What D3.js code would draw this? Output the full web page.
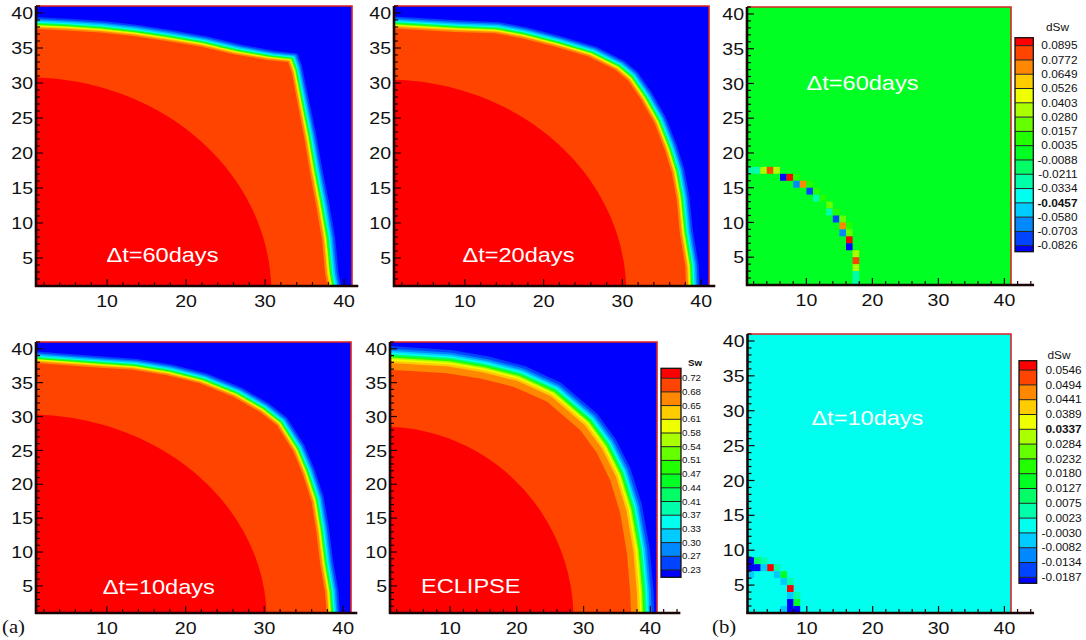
<!DOCTYPE html>
<html><head><meta charset="utf-8">
<script src="https://cdn.jsdelivr.net/npm/d3@7"></script>
<style>body{margin:0;background:#fff;} svg{display:block;}</style>
</head><body>
<svg id="c" width="1086" height="640"></svg>
<script>
// ---------------- DATA ----------------
const xTickLabels = [10, 20, 30, 40];
const yTickLabels = [5, 10, 15, 20, 25, 30, 35, 40];
const bandColors = ["#0000ff","#0044ff","#0088ff","#00ccff","#00ffee","#00ffaa","#00ff66","#00ff22",
                    "#22ff00","#66ff00","#aaff00","#eeff00","#ffcc00","#ff8800","#ff4400","#ff0000"];
const swLabels = ["0.72","0.68","0.65","0.61","0.58","0.54","0.51","0.47","0.44","0.41","0.37","0.33","0.30","0.27","0.23"];
const swBounds = [0.23,0.27,0.30,0.33,0.37,0.41,0.44,0.47,0.51,0.54,0.58,0.61,0.65,0.68,0.72];
const dsw60Labels = ["0.0895","0.0772","0.0649","0.0526","0.0403","0.0280","0.0157","0.0035","-0.0088","-0.0211","-0.0334","-0.0457","-0.0580","-0.0703","-0.0826"];
const dsw60Bounds = [-0.0826,-0.0703,-0.0580,-0.0457,-0.0334,-0.0211,-0.0088,0.0035,0.0157,0.0280,0.0403,0.0526,0.0649,0.0772,0.0895];
const dsw10Labels = ["0.0546","0.0494","0.0441","0.0389","0.0337","0.0284","0.0232","0.0180","0.0127","0.0075","0.0023","-0.0030","-0.0082","-0.0134","-0.0187"];
const dsw10Bounds = [-0.0187,-0.0134,-0.0082,-0.0030,0.0023,0.0075,0.0127,0.0180,0.0232,0.0284,0.0337,0.0389,0.0441,0.0494,0.0546];

// saturation front (outer edge of the Sw~0.70 zone), [x, y] grid coords
const front60 = [[1,37.7],[4.9,37.5],[9.1,37.2],[13.3,36.7],[17.5,36.0],[21.8,35.2],[26,34.1],[30.2,33.3],[32.9,33.0],[33.4,31.4],[34.2,26.6],[35,21.9],[35.7,17.1],[36.5,12.3],[37.2,7.6],[37.6,2.8],[37.9,1]];
const front20 = [[1,37.8],[8.7,37.3],[13.8,37.1],[17.2,36.4],[21.4,35.2],[25.7,33.8],[29.1,31.9],[30.7,30.4],[32.4,27.6],[34.1,24.2],[35.4,20.4],[36.3,17.1],[36.9,13.3],[37.3,8.5],[38,3.8],[38.1,1]];
const front10 = [[1,37.9],[9.1,37.2],[13.3,36.9],[17.6,36.1],[21.8,34.9],[26.1,32.9],[29.4,30.7],[31.6,28.7],[33.7,24.8],[34.9,21.4],[36,17.4],[36.6,13],[37.1,8.1],[37.7,4.1],[37.9,1]];
const frontEclipse = [[1,36.9],[9.5,36.4],[14.5,35.6],[19.5,34.4],[24.5,32.2],[29.5,28.0],[32,24.6],[34,20.6],[35.5,15.7],[36.5,9.8],[37,3.9],[37.1,1]];
// transition profile outward of the front: [distance, Sw]
const simProfile = [[1.7,0.25],[1.45,0.285],[1.25,0.315],[1.05,0.35],[0.9,0.425],[0.75,0.49],[0.6,0.56],[0.5,0.595],[0.4,0.63],[0.25,0.665]];
const eclProfile = [[3.5,0.25],[3.1,0.285],[2.8,0.315],[2.55,0.35],[2.3,0.425],[2.05,0.49],[1.8,0.56],[1.6,0.595],[1.35,0.63],[1.0,0.665]];
const plateauSw = 0.70, coreSw = 0.75, initialSw = 0.20;
// radius of the Sw>0.72 core zone per panel (60d, 20d, 10d, ECLIPSE)
const coreRadius = [30.8, 30.5, 30.3, 28.5];

// dSw cells [x, y, dSw]
const cells60 = [[1,17,-0.027],[2,17,-0.027],[3,17,0.034],[4,17,0.083],[5,17,0.034],
  [6,16,-0.09],[7,16,0.095],[8,16,0.01],
  [8,15,-0.064],[9,15,0.071],[10,15,0.01],
  [10,14,-0.076],[11,14,0.01],
  [11,13,-0.027],[12,13,0.01],
  [13,12,0.022],
  [13,11,-0.027],[14,11,0.01],
  [14,10,-0.076],[15,10,0.022],
  [15,9,0.071],[16,9,0.01],
  [15,8,-0.064],[16,8,0.022],
  [16,7,0.095],[16,6,-0.09],
  [17,5,0.034],[17,4,0.083],[17,3,0.034],[17,2,-0.027],[17,1,-0.027]];
const cells10 = [[1,8,-0.021],[2,8,0.010],[3,8,0.0049],
  [1,7,-0.021],[2,7,-0.021],[3,7,-0.0056],[4,7,0.058],[5,7,0.0049],
  [1,6,-0.0056],[5,6,-0.0056],[6,6,0.0154],
  [6,5,-0.0056],[7,5,0.0049],
  [7,4,0.058],
  [7,3,-0.0056],[8,3,0.0049],
  [7,2,-0.021],[8,2,0.0154],
  [6,1,-0.0056],[7,1,-0.021],[8,1,-0.021]];

// ---------------- LAYOUT ----------------
const svg = d3.select('#c');
const FONT = "'Liberation Sans', Arial, Helvetica, sans-serif";
const SX = 1.15;
const panels = [
  {L:36, R:352, T:6, B:286, end:41.8},
  {L:394, R:709, T:6, B:286, end:41.8},
  {L:747, R:1011, T:7, B:285, end:44.5},
  {L:36, R:351, T:342, B:613, end:41.8},
  {L:390, R:657, T:342, B:613, end:44.5},
  {L:747.5, R:1011, T:334, B:613, end:44.5}
];
const swColor = d3.scaleThreshold().domain(swBounds).range(bandColors);
const d60Color = d3.scaleThreshold().domain(dsw60Bounds).range(bandColors);
const d10Color = d3.scaleThreshold().domain(dsw10Bounds).range(bandColors);

function stext(g, x, y, str, size, anchor, opts={}) {
  const t = g.append('text')
    .attr('transform', `translate(${x},${y}) scale(${opts.sx||SX},1)`)
    .attr('text-anchor', anchor)
    .attr('font-family', opts.family || FONT)
    .attr('font-size', size)
    .attr('fill', opts.fill || '#111')
    .text(str);
  if (opts.bold) t.attr('font-weight', 'bold');
  if (opts.dy) t.attr('dy', opts.dy);
  return t;
}

function makePanel(i) {
  const p = panels[i];
  const x = d3.scaleLinear().domain([1, 41]).range([p.L, p.R]);
  const y = d3.scaleLinear().domain([1, 41]).range([p.B, p.T]);
  const g = svg.append('g');
  const cid = 'clip' + i;
  svg.append('clipPath').attr('id', cid).append('rect')
    .attr('x', p.L).attr('y', p.T).attr('width', p.R - p.L).attr('height', p.B - p.T);
  const body = g.append('g').attr('clip-path', `url(#${cid})`);
  return {p, x, y, g, body};
}

function finishPanel(P) {
  const {p, x, y, g} = P;
  // red frame top/right
  g.append('path').attr('d', `M${p.L},${p.T}H${p.R}V${p.B}`)
    .attr('fill', 'none').attr('stroke', '#dd2222').attr('stroke-width', 1.6);
  // ticks
  const ax = g.append('g').attr('stroke', '#1a0505').attr('stroke-width', 1.2);
  d3.range(1, 42, 1).forEach(v => {
    const len = v % 5 === 0 ? 7 : 4;
    ax.append('line').attr('x1', p.L).attr('x2', p.L + len).attr('y1', y(v)).attr('y2', y(v));
  });
  d3.range(2, Math.floor(p.end) + 1, 2).forEach(v => {
    const len = v % 10 === 0 ? 7 : 4;
    ax.append('line').attr('x1', x(v)).attr('x2', x(v)).attr('y1', p.B).attr('y2', p.B - len);
  });
  // axis lines
  g.append('line').attr('x1', p.L).attr('x2', p.L).attr('y1', p.T).attr('y2', p.B + 1)
    .attr('stroke', '#1a0505').attr('stroke-width', 2.6);
  g.append('line').attr('x1', p.L - 1).attr('x2', x(p.end)).attr('y1', p.B).attr('y2', p.B)
    .attr('stroke', '#1a0505').attr('stroke-width', 2.6);
  // labels
  yTickLabels.forEach(v => stext(g, p.L - 3, y(v), String(v), 17, 'end', {dy: '0.36em'}));
  xTickLabels.forEach(v => stext(g, x(v), p.B + 21, String(v), 17, 'middle'));
}

function frontPolygon(front, d) {
  const pts = [[0, front[0][1]], ...front, [front[front.length - 1][0], 0]];
  const out = pts.map(([a, b]) => { const len = Math.hypot(a, b); return [a + d * a / len, b + d * b / len]; });
  return [[0, 0], ...out];
}

function drawSw(i, front, profile, rIdx, label, lx, ly) {
  const P = makePanel(i);
  const {x, y, body} = P;
  const line = d3.line().x(d => x(d[0])).y(d => y(d[1])).curve(d3.curveLinearClosed);
  body.append('rect').attr('x', P.p.L - 2).attr('y', P.p.T - 2).attr('width', P.p.R - P.p.L + 4)
    .attr('height', P.p.B - P.p.T + 4).attr('fill', swColor(initialSw));
  profile.forEach(([d, sw]) => {
    body.append('path').attr('d', line(frontPolygon(front, d))).attr('fill', swColor(sw));
  });
  body.append('path').attr('d', line(frontPolygon(front, 0))).attr('fill', swColor(plateauSw));
  const r = coreRadius[rIdx];
  const arc = [[0, 0]].concat(d3.range(0, 91, 2).map(a => [r * Math.cos(a * Math.PI / 180), r * Math.sin(a * Math.PI / 180)]));
  body.append('path').attr('d', line(arc)).attr('fill', swColor(coreSw));
  finishPanel(P);
  stext(P.g, x(lx), y(ly), label, 20.5, 'middle', {fill: '#fff'});
}

function drawDsw(i, cells, color, label, lx, ly) {
  const P = makePanel(i);
  const {x, y, body} = P;
  body.append('rect').attr('x', P.p.L - 2).attr('y', P.p.T - 2).attr('width', P.p.R - P.p.L + 4)
    .attr('height', P.p.B - P.p.T + 4).attr('fill', color(0));
  body.selectAll('rect.cell').data(cells).enter().append('rect').attr('class', 'cell')
    .attr('x', d => x(d[0])).attr('y', d => y(d[1] + 1))
    .attr('width', d => x(d[0] + 1) - x(d[0])).attr('height', d => y(d[1]) - y(d[1] + 1))
    .attr('fill', d => color(d[2]));
  finishPanel(P);
  stext(P.g, x(lx), y(ly), label, 20.5, 'middle', {fill: '#fff'});
}

function legend(cfg, labels, title, boldLabel, titleBold, fs) {
  const g = svg.append('g');
  const by = k => cfg.low - k * cfg.step; // boundary k (0 = lowest)
  for (let k = 0; k < 16; k++) {
    const y0 = k === 15 ? cfg.top : by(k);
    const y1 = k === 0 ? cfg.bottom : by(k - 1);
    g.append('rect').attr('x', cfg.x0).attr('y', y0).attr('width', cfg.x1 - cfg.x0).attr('height', y1 - y0)
      .attr('fill', bandColors[k]);
  }
  for (let k = 0; k < 15; k++) {
    g.append('line').attr('x1', cfg.x0).attr('x2', cfg.x1).attr('y1', by(k)).attr('y2', by(k))
      .attr('stroke', '#222').attr('stroke-width', 1);
  }
  g.append('rect').attr('x', cfg.x0).attr('y', cfg.top).attr('width', cfg.x1 - cfg.x0)
    .attr('height', cfg.bottom - cfg.top).attr('fill', 'none').attr('stroke', '#111').attr('stroke-width', 1.3);
  labels.forEach((s, j) => {
    stext(g, cfg.lx, by(14 - j), s, fs, 'end', {dy: '0.36em', bold: s === boldLabel});
  });
  stext(g, cfg.tx, cfg.ty, title, fs, 'middle', {bold: titleBold});
}

drawSw(0, front60, simProfile, 0, '\u0394t=60days', 17, 4.4);
drawSw(1, front20, simProfile, 1, '\u0394t=20days', 16.8, 4.5);
drawDsw(2, cells60, d60Color, '\u0394t=60days', 18.5, 29);
drawSw(3, front10, simProfile, 2, '\u0394t=10days', 16.6, 3.8);
drawSw(4, frontEclipse, eclProfile, 3, 'ECLIPSE', 13.1, 4);
drawDsw(5, cells10, d10Color, '\u0394t=10days', 19.2, 28);

legend({x0: 661, x1: 681, top: 368.3, bottom: 577.3, low: 570, step: 13.7, lx: 701, tx: 695, ty: 366}, swLabels, 'Sw', null, true, 8.5);
legend({x0: 1015, x1: 1033.3, top: 37.7, bottom: 251.7, low: 245.7, step: 14.29, lx: 1077.5, tx: 1057.5, ty: 30.5}, dsw60Labels, 'dSw', '-0.0457', false, 10.3);
legend({x0: 1019, x1: 1036.7, top: 360.7, bottom: 583.3, low: 577.3, step: 14.8, lx: 1081.7, tx: 1059, ty: 359}, dsw10Labels, 'dSw', '0.0337', false, 10.3);

stext(svg, 2, 633, '(a)', 18, 'start', {family: "'Liberation Serif', 'Times New Roman', serif"});
stext(svg, 712, 633, '(b)', 18, 'start', {family: "'Liberation Serif', 'Times New Roman', serif"});
</script>
</body></html>
